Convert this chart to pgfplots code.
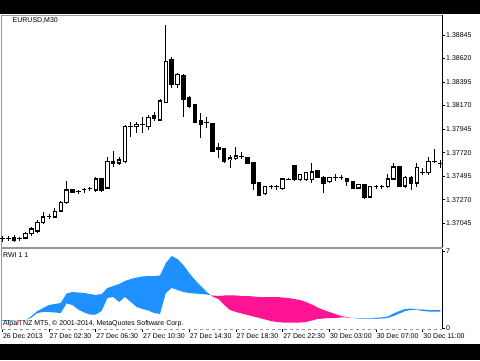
\documentclass[border=0pt]{standalone}
\usepackage{pgfplots}
\usepackage{pgfplotstable}
\pgfplotsset{compat=1.18}
\usepgfplotslibrary{fillbetween}
\usepackage{fontspec}
\setmainfont{Liberation Sans}
\definecolor{rwiblue}{RGB}{30,144,255}
\definecolor{rwipink}{RGB}{255,20,147}
\definecolor{framegray}{RGB}{150,150,150}

% wicks: bar index, low, high
\pgfplotstableread{
i l h
0 1.36866 1.36923
1 1.36876 1.36923
2 1.36866 1.36933
3 1.36876 1.36914
4 1.36895 1.36962
5 1.36923 1.37010
6 1.36952 1.37076
7 1.37038 1.37153
8 1.37086 1.37134
9 1.37096 1.37191
10 1.37153 1.37258
11 1.37229 1.37449
12 1.37335 1.37373
13 1.37325 1.37363
14 1.37335 1.37382
15 1.37354 1.37392
16 1.37344 1.37487
17 1.37344 1.37478
18 1.37373 1.37679
19 1.37583 1.37736
20 1.37602 1.37679
21 1.37621 1.37985
22 1.37870 1.38013
23 1.37908 1.38013
24 1.37908 1.38061
25 1.37937 1.38080
26 1.38023 1.38109
27 1.38023 1.38233
28 1.38195 1.38941
29 1.38338 1.38635
30 1.38338 1.38482
31 1.38061 1.38472
32 1.38147 1.38262
33 1.38004 1.38185
34 1.37860 1.38099
35 1.37956 1.38061
36 1.37726 1.38004
37 1.37669 1.37813
38 1.37621 1.37765
39 1.37574 1.37698
40 1.37650 1.37774
41 1.37660 1.37726
42 1.37612 1.37679
43 1.37363 1.37631
44 1.37306 1.37440
45 1.37315 1.37401
46 1.37373 1.37411
47 1.37363 1.37411
48 1.37363 1.37478
49 1.37459 1.37478
50 1.37449 1.37602
51 1.37449 1.37516
52 1.37449 1.37535
53 1.37430 1.37621
54 1.37478 1.37554
55 1.37335 1.37497
56 1.37430 1.37487
57 1.37449 1.37516
58 1.37459 1.37507
59 1.37401 1.37478
60 1.37373 1.37449
61 1.37373 1.37421
62 1.37277 1.37421
63 1.37287 1.37401
64 1.37373 1.37411
65 1.37373 1.37411
66 1.37382 1.37516
67 1.37459 1.37621
68 1.37392 1.37593
69 1.37382 1.37497
70 1.37363 1.37497
71 1.37392 1.37621
72 1.37507 1.37574
73 1.37507 1.37679
74 1.37621 1.37755
75 1.37574 1.37650
}\wicks

% rising (hollow) bodies: bar index, open, close
\pgfplotstableread{
i lo hi
4 1.36904 1.36943
5 1.36943 1.36990
6 1.36971 1.37048
7 1.37048 1.37105
9 1.37105 1.37153
10 1.37162 1.37239
11 1.37239 1.37363
16 1.37363 1.37468
18 1.37382 1.37631
20 1.37621 1.37650
21 1.37631 1.37966
23 1.37966 1.37985
25 1.37966 1.38052
27 1.38032 1.38214
28 1.38204 1.38596
30 1.38367 1.38463
39 1.37650 1.37669
40 1.37669 1.37688
45 1.37325 1.37392
48 1.37373 1.37468
51 1.37459 1.37507
52 1.37459 1.37526
53 1.37459 1.37535
56 1.37440 1.37478
61 1.37382 1.37411
63 1.37296 1.37392
66 1.37392 1.37468
67 1.37468 1.37583
69 1.37401 1.37487
71 1.37430 1.37574
73 1.37526 1.37631
}\bull

% falling (filled) bodies: bar index, close, open
\pgfplotstableread{
i lo hi
2 1.36885 1.36904
12 1.37344 1.37363
17 1.37363 1.37468
19 1.37612 1.37631
26 1.38042 1.38071
29 1.38367 1.38606
31 1.38233 1.38453
32 1.38166 1.38243
33 1.38013 1.38176
34 1.37994 1.38023
36 1.37736 1.37994
37 1.37746 1.37765
38 1.37640 1.37755
42 1.37621 1.37669
43 1.37421 1.37621
44 1.37315 1.37430
50 1.37459 1.37593
54 1.37487 1.37545
55 1.37430 1.37487
59 1.37440 1.37468
60 1.37382 1.37440
62 1.37287 1.37411
68 1.37401 1.37583
70 1.37421 1.37487
}\bear

% doji bars: bar index, open = close
\pgfplotstableread{
i p
0 1.36895
1 1.36895
3 1.36895
8 1.37105
13 1.37344
14 1.37363
15 1.37373
22 1.37966
24 1.37985
35 1.38004
41 1.37679
46 1.37392
47 1.37392
49 1.37468
57 1.37478
58 1.37478
64 1.37392
65 1.37392
72 1.37526
74 1.37631
75 1.37621
}\doji

% RWI: bar index, RWI high, RWI low
\pgfplotstableread{
i H L
0 0.727 0.655
1 0.727 0.655
2 0.709 0.673
3 0.655 0.727
4 0.682 0.700
5 1.091 0.955
6 1.545 1.364
7 1.818 1.455
8 2.091 1.455
9 2.182 1.409
10 2.273 1.364
11 3.136 2.227
12 3.273 2.091
13 3.227 1.682
14 3.182 1.409
15 3.091 1.227
16 3.000 1.227
17 3.091 1.545
18 3.636 2.727
19 3.818 2.818
20 4.000 2.364
21 4.273 2.818
22 4.455 2.364
23 4.591 1.909
24 4.682 1.727
25 4.727 1.591
26 4.727 1.364
27 4.773 1.273
28 5.909 3.182
29 6.545 3.636
30 6.273 3.455
31 5.727 3.273
32 5.000 3.182
33 4.364 3.136
34 3.818 3.091
35 3.273 3.045
36 2.864 2.955
37 2.636 2.909
38 2.091 2.955
39 1.636 2.955
40 1.455 2.955
41 1.318 2.909
42 1.182 2.909
43 1.045 2.864
44 0.909 2.818
45 0.773 2.818
46 0.636 2.818
47 0.545 2.818
48 0.500 2.773
49 0.500 2.727
50 0.500 2.636
51 0.500 2.545
52 0.545 2.364
53 0.682 2.136
54 0.818 1.864
55 0.864 1.636
56 0.909 1.455
57 0.909 1.273
58 0.955 1.091
59 0.955 1.000
60 0.927 0.927
61 0.909 0.864
62 0.909 0.855
63 0.909 0.855
64 0.927 0.836
65 0.973 0.864
66 1.045 0.909
67 1.318 1.091
68 1.545 1.318
69 1.727 1.545
70 1.773 1.636
71 1.682 1.655
72 1.682 1.545
73 1.636 1.500
74 1.636 1.500
75 1.636 1.500
}\rwi

\begin{document}
\begin{tikzpicture}[font=\fontsize{7}{8}\selectfont]
\fill[black] (0,0) rectangle (480pt,16pt);
\fill[black] (0,346pt) rectangle (480pt,360pt);

% ---------------- price chart ----------------
\begin{axis}[
  at={(1.5pt,113pt)}, anchor=south west,
  scale only axis, width=440.5pt, height=232pt,
  xmin=-0.14, xmax=75.29,
  ymin=1.36818, ymax=1.39036,
  axis line style={framegray, line width=0.8pt},
  xtick=\empty,
  ytick={1.37045,1.37270,1.37495,1.37720,1.37945,1.38170,1.38395,1.38620,1.38845},
  yticklabels={1.37045,1.37270,1.37495,1.37720,1.37945,1.38170,1.38395,1.38620,1.38845},
  ytick pos=right, yticklabel pos=right,
  ytick align=outside, major tick length=3pt,
  tick style={black, line width=0.6pt},
  yticklabel style={anchor=west, inner sep=0pt, xshift=1pt, font=\fontsize{7}{8}\selectfont},
  /pgf/number format/assume math mode=true,
  extra description/.code={\draw[black, line width=0.8pt] (rel axis cs:1,0) -- (rel axis cs:1,1);},
]
\addplot[draw=none, no markers, error bars/.cd, y dir=plus, y explicit, error mark=none,
  error bar style={draw=black, solid, line width=0.9pt}]
  table[x=i, y=l, y error plus expr=\thisrow{h}-\thisrow{l}] {\wicks};
\addplot[draw=none, no markers, error bars/.cd, y dir=plus, y explicit, error mark=none,
  error bar style={draw=black, solid, line width=4.4pt}]
  table[x=i, y expr=\thisrow{lo}-0.00005, y error plus expr=\thisrow{hi}-\thisrow{lo}+0.0001] {\bull};
\addplot[draw=none, no markers, error bars/.cd, y dir=plus, y explicit, error mark=none,
  error bar style={draw=white, solid, line width=2.4pt}]
  table[x=i, y expr=\thisrow{lo}+0.00005, y error plus expr=\thisrow{hi}-\thisrow{lo}-0.0001] {\bull};
\addplot[draw=none, no markers, error bars/.cd, y dir=plus, y explicit, error mark=none,
  error bar style={draw=black, solid, line width=4.4pt}]
  table[x=i, y expr=\thisrow{lo}-0.00005, y error plus expr=\thisrow{hi}-\thisrow{lo}+0.0001] {\bear};
\addplot[only marks, mark=-, mark size=2.4pt, mark options={line width=1pt, draw=black}]
  table[x=i, y=p] {\doji};
\end{axis}

% ---------------- RWI panel ----------------
\begin{axis}[
  at={(1.5pt,31pt)}, anchor=south west,
  scale only axis, width=440.5pt, height=80.5pt,
  xmin=-0.14, xmax=75.29,
  ymin=-0.091, ymax=7.227,
  axis line style={draw=none},
  xtick={0,8,16,24,32,40,48,56,64,72},
  xticklabels={26 Dec 2013,27 Dec 02:30,27 Dec 06:30,27 Dec 10:30,27 Dec 14:30,27 Dec 18:30,27 Dec 22:30,30 Dec 03:00,30 Dec 07:00,30 Dec 11:00},
  xtick pos=left, xtick align=outside,
  ytick={0,7}, yticklabels={0,7},
  ytick pos=right, yticklabel pos=right, ytick align=outside,
  major tick length=3pt,
  tick style={black, line width=0.6pt},
  xticklabel style={anchor=north west, inner sep=0pt, xshift=0.5pt, yshift=-1pt, font=\fontsize{7}{8}\selectfont},
  yticklabel style={anchor=west, inner sep=0pt, xshift=1pt, font=\fontsize{7}{8}\selectfont},
  /pgf/number format/assume math mode=true,
  extra description/.code={
    \draw[framegray, line width=0.8pt] (rel axis cs:0,0) -- (rel axis cs:0,1) -- (rel axis cs:1,1);
    \draw[black, line width=0.8pt] (rel axis cs:1,0) -- (rel axis cs:1,1);
    \draw[framegray, dashed, line width=0.6pt] (rel axis cs:0,0) -- (rel axis cs:1,0);
  },
]
\addplot[draw=none, name path=H] table[x=i, y=H] {\rwi};
\addplot[draw=none, name path=L] table[x=i, y=L] {\rwi};
\addplot[rwiblue] fill between[of=H and L, soft clip={domain=-1:2.33}];
\addplot[rwipink] fill between[of=H and L, soft clip={domain=2.33:4.12}];
\addplot[rwiblue] fill between[of=H and L, soft clip={domain=4.12:35.71}];
\addplot[rwipink] fill between[of=H and L, soft clip={domain=35.71:60}];
\addplot[rwiblue] fill between[of=H and L, soft clip={domain=60:76}];
\end{axis}

\node[anchor=west, inner sep=0pt] at (12.5pt,339pt) {EURUSD,M30};
\node[anchor=west, inner sep=0pt] at (3pt,105pt) {RWI 1 1};
\node[anchor=west, inner sep=0pt] at (3pt,36pt) {Alpari NZ MT5, © 2001-2014, MetaQuotes Software Corp.};

\pgfresetboundingbox
\useasboundingbox (0,0) rectangle (480pt,360pt);
\end{tikzpicture}
\end{document}
